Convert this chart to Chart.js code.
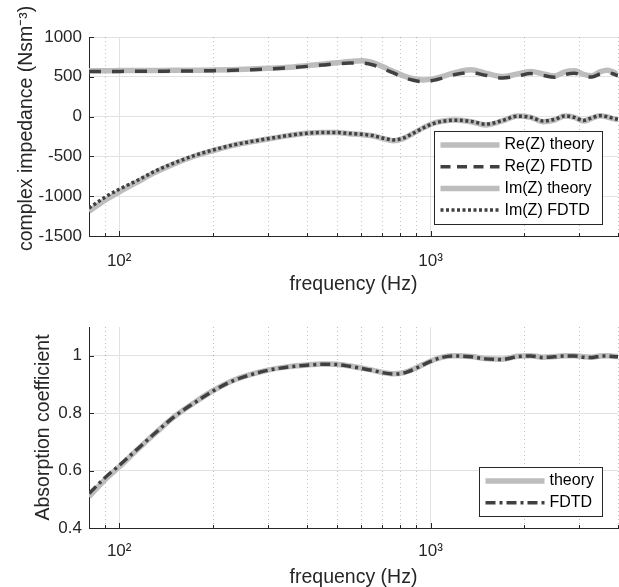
<!DOCTYPE html>
<html>
<head>
<meta charset="utf-8">
<script src="https://cdn.jsdelivr.net/npm/chart.js@4.4.1/dist/chart.umd.min.js"></script>
<style>
html,body{margin:0;padding:0;background:#fff;}
canvas{display:block;}
</style>
</head>
<body>
<canvas id="c1" width="619" height="300"></canvas>
<canvas id="c2" width="619" height="287"></canvas>
<script>
// ---------- data ----------
const freq = [80, 90, 100, 115, 130, 150, 175, 200, 230, 265, 300, 350, 400, 450, 500, 550, 600, 650, 700, 760, 820, 880, 950, 1020, 1100, 1200, 1350, 1500, 1700, 1900, 2100, 2300, 2500, 2700, 2900, 3100, 3300, 3500, 3700, 3850, 4000];

const reTheory = [577, 577, 578, 579, 580, 581, 583, 585, 590, 597, 606, 620, 640, 658, 676, 692, 702, 682, 630, 567, 512, 476, 460, 474, 508, 553, 588, 546, 503, 535, 568, 537, 510, 560, 575, 530, 514, 562, 582, 562, 527];
const reFDTD   = [566, 567, 568, 569, 570, 572, 574, 577, 582, 589, 598, 612, 631, 648, 662, 672, 672, 652, 606, 548, 493, 456, 438, 455, 488, 528, 553, 520, 485, 508, 540, 518, 494, 530, 545, 508, 497, 535, 552, 538, 512];
const imTheory = [-1190, -1051, -947, -817, -704, -594, -495, -428, -364, -318, -281, -239, -210, -201, -201, -214, -223, -240, -273, -303, -273, -210, -139, -84, -55, -43, -64, -105, -55, 8, -9, -64, -43, 8, -9, -55, -20, 10, -5, -25, -40];
const imFDTD   = [-1150, -1013, -913, -797, -687, -583, -487, -420, -360, -314, -278, -237, -209, -200, -200, -212, -222, -238, -268, -293, -268, -208, -140, -88, -58, -45, -60, -95, -50, 5, -10, -55, -35, 8, -10, -48, -15, 12, -2, -20, -35];

const absTheory = [0.509, 0.568, 0.613, 0.675, 0.728, 0.787, 0.838, 0.878, 0.912, 0.935, 0.950, 0.962, 0.968, 0.971, 0.970, 0.964, 0.957, 0.950, 0.942, 0.937, 0.941, 0.953, 0.970, 0.985, 0.996, 1.000, 0.997, 0.990, 0.988, 0.998, 1.000, 0.995, 0.997, 1.000, 1.000, 0.996, 0.995, 0.999, 1.000, 0.998, 0.997];
const absFDTD   = [0.520, 0.575, 0.618, 0.677, 0.729, 0.787, 0.837, 0.877, 0.911, 0.934, 0.949, 0.961, 0.967, 0.970, 0.969, 0.963, 0.956, 0.949, 0.941, 0.936, 0.940, 0.952, 0.969, 0.984, 0.995, 0.999, 0.996, 0.989, 0.987, 0.997, 0.999, 0.994, 0.996, 0.999, 0.999, 0.995, 0.994, 0.998, 0.999, 0.997, 0.996];

const xTicks = [80, 90, 100, 200, 300, 400, 500, 600, 700, 800, 900, 1000, 2000, 3000, 4000];
const xMajor = [100, 1000];
const xTickLabels = {100: '10\u00B2', 1000: '10\u00B3'};
const yTicksTop = [-1500, -1000, -500, 0, 500, 1000];
const yTicksBottom = [0.4, 0.6, 0.8, 1];

const labelsTop = ['Re(Z) theory', 'Re(Z) FDTD', 'Im(Z) theory', 'Im(Z) FDTD'];
const labelsBottom = ['theory', 'FDTD'];

// ---------- styling ----------
const FONT = '"Liberation Sans", Arial, Helvetica, sans-serif';
const AX = '#262626';
const GREY = '#bdbdbd';
const DARK = '#404040';
const GRID = '#e2e2e2';

const pts = arr => freq.map((f, i) => ({x: f, y: arr[i]}));

const deco = {
  id: 'deco',
  beforeDatasetsDraw(chart) {
    const {ctx, chartArea: a, scales} = chart;
    const xs = scales.x;
    ctx.save();
    ctx.strokeStyle = 'rgba(0,0,0,0.25)';
    ctx.lineWidth = 1;
    ctx.setLineDash([1, 3]);
    xTicks.forEach(v => {
      if (xMajor.includes(v) || v === xTicks[0]) return;
      const px = Math.round(xs.getPixelForValue(v)) + 0.5;
      ctx.beginPath();
      ctx.moveTo(px, a.top);
      ctx.lineTo(px, a.bottom);
      ctx.stroke();
    });
    ctx.restore();
  },
  afterDatasetsDraw(chart, args, opts) {
    const {ctx, chartArea: a, scales} = chart;
    const xs = scales.x, ys = scales.y;
    ctx.save();
    ctx.strokeStyle = AX;
    ctx.lineWidth = 1;
    ctx.setLineDash([]);
    xTicks.forEach(v => {
      const px = Math.round(xs.getPixelForValue(v)) + 0.5;
      const len = xMajor.includes(v) ? 5 : 3;
      ctx.beginPath();
      ctx.moveTo(px, a.bottom);
      ctx.lineTo(px, a.bottom - len);
      ctx.stroke();
    });
    (opts.yTicks || []).forEach(v => {
      const py = Math.round(ys.getPixelForValue(v)) + 0.5;
      ctx.beginPath();
      ctx.moveTo(a.left, py);
      ctx.lineTo(a.left + 5, py);
      ctx.stroke();
    });
    // legend box
    const ds = chart.data.datasets;
    ctx.font = '16px ' + FONT;
    const textW = Math.max(...ds.map(d => ctx.measureText(d.label).width));
    const sampleL = 6.5, sampleW = 59, gap = 5, padR = 8, rowH = 21.7, padT = 14, padB = 13.6;
    const w = Math.round(sampleL + sampleW + gap + textW + padR);
    const h = Math.round(padT + rowH * (ds.length - 1) + padB);
    const x0 = Math.round(a.right - 16 - w), y0 = Math.round(a.bottom - 12 - h);
    ctx.fillStyle = '#fff';
    ctx.fillRect(x0, y0, w, h);
    ctx.strokeStyle = AX;
    ctx.lineWidth = 1;
    ctx.strokeRect(x0 + 0.5, y0 + 0.5, w, h);
    ds.forEach((d, i) => {
      const y = y0 + padT + i * rowH;
      ctx.save();
      ctx.beginPath();
      ctx.setLineDash(d.legendDash || d.borderDash || []);
      ctx.strokeStyle = d.borderColor;
      ctx.lineWidth = d.borderWidth;
      ctx.lineCap = 'butt';
      ctx.moveTo(x0 + sampleL, y);
      ctx.lineTo(x0 + sampleL + sampleW, y);
      ctx.stroke();
      ctx.restore();
      ctx.fillStyle = '#000';
      ctx.textBaseline = 'middle';
      ctx.textAlign = 'left';
      ctx.fillText(d.label, x0 + sampleL + sampleW + gap, y);
    });
    ctx.restore();
  }
};

function xScale(h, tickPad, titlePadBottom) {
  return {
    type: 'logarithmic',
    min: 80, max: 4000,
    afterBuildTicks: s => { s.ticks = xTicks.map(v => ({value: v})); },
    afterFit: s => { s.height = h; s.paddingLeft = 0; s.paddingRight = 0; },
    ticks: {
      autoSkip: false, maxRotation: 0, minRotation: 0,
      padding: tickPad,
      color: AX,
      font: {family: FONT, size: 17},
      callback: v => xTickLabels[v] || ''
    },
    grid: {
      drawTicks: false,
      color: c => (c.tick && xMajor.includes(c.tick.value)) ? GRID : 'rgba(0,0,0,0)',
      lineWidth: 1
    },
    border: {display: true, color: AX, width: 1},
    title: {
      display: true, text: 'frequency (Hz)', color: AX,
      font: {family: FONT, size: 19.5},
      padding: {top: 0, bottom: titlePadBottom}
    }
  };
}

function yScale(min, max, ticks, title, titlePadTop) {
  return {
    type: 'linear',
    min: min, max: max,
    afterBuildTicks: s => { s.ticks = ticks.map(v => ({value: v})); },
    afterFit: s => { s.width = 89; },
    ticks: {
      padding: 7,
      color: AX,
      font: {family: FONT, size: 17},
      callback: v => String(Math.round(v * 100) / 100)
    },
    grid: {
      drawTicks: false,
      color: c => (c.tick && c.tick.value === min) ? 'rgba(0,0,0,0)' : GRID,
      lineWidth: 1
    },
    border: {display: true, color: AX, width: 1},
    title: {
      display: true, text: title, color: AX,
      font: {family: FONT, size: 19.5},
      padding: {top: titlePadTop, bottom: 0}
    }
  };
}

const common = {
  responsive: false,
  animation: false,
  devicePixelRatio: 1,
  events: [],
  elements: {point: {radius: 0}, line: {cubicInterpolationMode: 'monotone'}},
  plugins: {legend: {display: false}, tooltip: {enabled: false}}
};

new Chart(document.getElementById('c1'), {
  type: 'line',
  data: {
    datasets: [
      {label: labelsTop[0], data: pts(reTheory), borderColor: GREY, borderWidth: 5.5, order: 2},
      {label: labelsTop[1], data: pts(reFDTD), borderColor: DARK, borderWidth: 3.5, borderDash: [12, 11], legendDash: [10, 6.5], order: 0},
      {label: labelsTop[2], data: pts(imTheory), borderColor: GREY, borderWidth: 5.5, order: 2},
      {label: labelsTop[3], data: pts(imFDTD), borderColor: DARK, borderWidth: 3.5, borderDash: [3, 2.5], order: 0}
    ]
  },
  options: Object.assign({}, common, {
    layout: {padding: {left: 0, right: 1, top: 37, bottom: 0}},
    scales: {
      x: xScale(64, 15, 4),
      y: yScale(-1500, 1000, yTicksTop, '   complex impedance (Nsm\u207B\u00B3)', 14.5)
    },
    plugins: Object.assign({}, common.plugins, {deco: {yTicks: yTicksTop}})
  }),
  plugins: [deco]
});

new Chart(document.getElementById('c2'), {
  type: 'line',
  data: {
    datasets: [
      {label: labelsBottom[0], data: pts(absTheory), borderColor: GREY, borderWidth: 5.5, order: 2},
      {label: labelsBottom[1], data: pts(absFDTD), borderColor: DARK, borderWidth: 3.5, borderDash: [10, 4, 3, 4], order: 0}
    ]
  },
  options: Object.assign({}, common, {
    layout: {padding: {left: 0, right: 1, top: 27, bottom: 0}},
    scales: {
      x: xScale(59, 13, -2),
      y: yScale(0.4, 1.1, yTicksBottom, 'Absorption coefficient', 31.5)
    },
    plugins: Object.assign({}, common.plugins, {deco: {yTicks: yTicksBottom}})
  }),
  plugins: [deco]
});
</script>
</body>
</html>
